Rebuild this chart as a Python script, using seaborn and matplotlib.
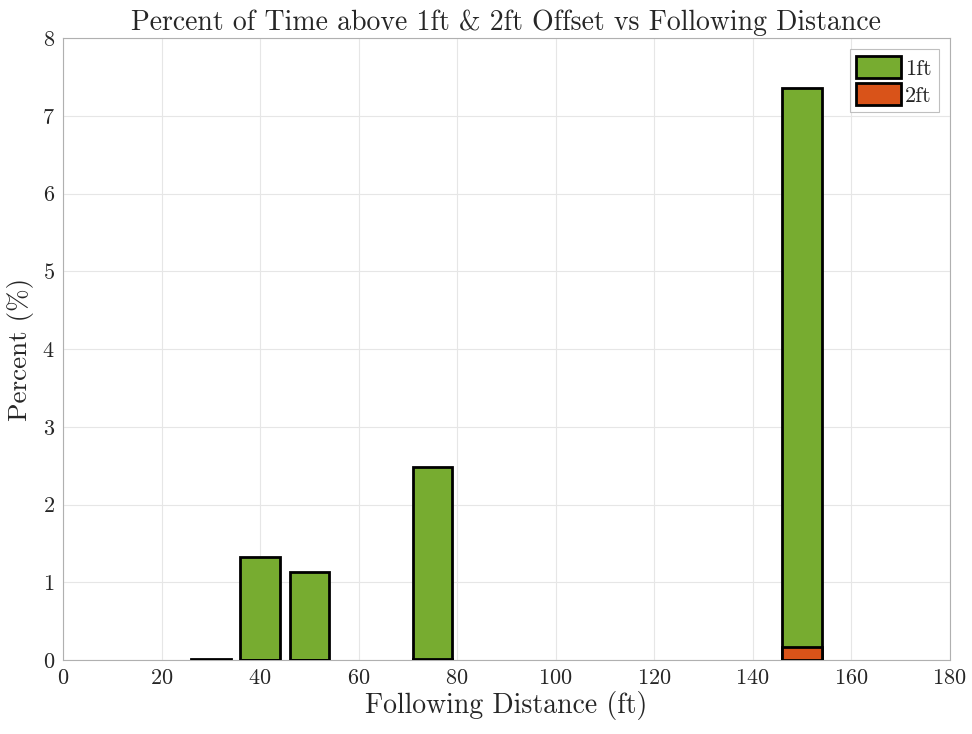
import matplotlib
matplotlib.use("Agg")
import matplotlib.pyplot as plt
from matplotlib.patches import Patch
import seaborn as sns
import pandas as pd

# Following distances (ft) and percent of time above each offset threshold
distance_ft = [30, 40, 50, 75, 150]
pct_above_1ft = [0.01, 1.33, 1.13, 2.48, 7.36]
pct_above_2ft = [0.0, 0.0, 0.0, 0.02, 0.17]

color_1ft = "#77AC30"
color_2ft = "#D95319"

df = pd.DataFrame({"distance": distance_ft,
                   "p1": pct_above_1ft,
                   "p2": pct_above_2ft})

sns.set_theme(style="whitegrid")
plt.rcParams["font.family"] = ["cmr10", "DejaVu Serif"]
plt.rcParams["mathtext.fontset"] = "cm"
plt.rcParams["axes.formatter.use_mathtext"] = True

fig = plt.figure(figsize=(9.72, 7.34), dpi=100)
ax = fig.add_axes([0.065, 0.1005, 0.912, 0.8475])

bar_kw = dict(native_scale=True, edgecolor="black", linewidth=2.0,
              errorbar=None, ax=ax, zorder=3)
sns.barplot(data=df, x="distance", y="p1", color=color_1ft,
            saturation=1, **bar_kw)
sns.barplot(data=df, x="distance", y="p2", color=color_2ft,
            saturation=1, **bar_kw)

ax.set_xlim(0, 180)
ax.set_ylim(0, 8)
ax.set_xticks(range(0, 181, 20))
ax.set_yticks(range(0, 9))
ax.grid(True, color="#e6e6e6", linewidth=0.8, zorder=0)
ax.set_axisbelow(True)
for side, sp in ax.spines.items():
    sp.set_color("#b0b0b0")
    sp.set_linewidth(0.8)
ax.tick_params(axis="both", direction="in", length=4, color="#b0b0b0",
               labelsize=16, labelcolor="#262626", pad=6)

ax.set_xlabel("Following Distance (ft)", fontsize=20, color="#262626", labelpad=2)
ax.set_ylabel("Percent (%)", fontsize=19.5, color="#262626", labelpad=6)
ax.set_title("Percent of Time above 1ft & 2ft Offset vs Following Distance",
             fontsize=20, color="#262626", pad=6)

handles = [Patch(facecolor=color_1ft, edgecolor="black", linewidth=2, label="1ft"),
           Patch(facecolor=color_2ft, edgecolor="black", linewidth=2, label="2ft")]
leg = ax.legend(handles=handles, loc="upper right", fontsize=16, frameon=True,
                fancybox=False, edgecolor="#b0b0b0", handlelength=2.0,
                handleheight=1.15, handletextpad=0.2, borderpad=0.3,
                labelspacing=0.2, borderaxespad=0.5)
leg.get_frame().set_linewidth(0.8)

fig.savefig("out.png", dpi=100, facecolor="white")
